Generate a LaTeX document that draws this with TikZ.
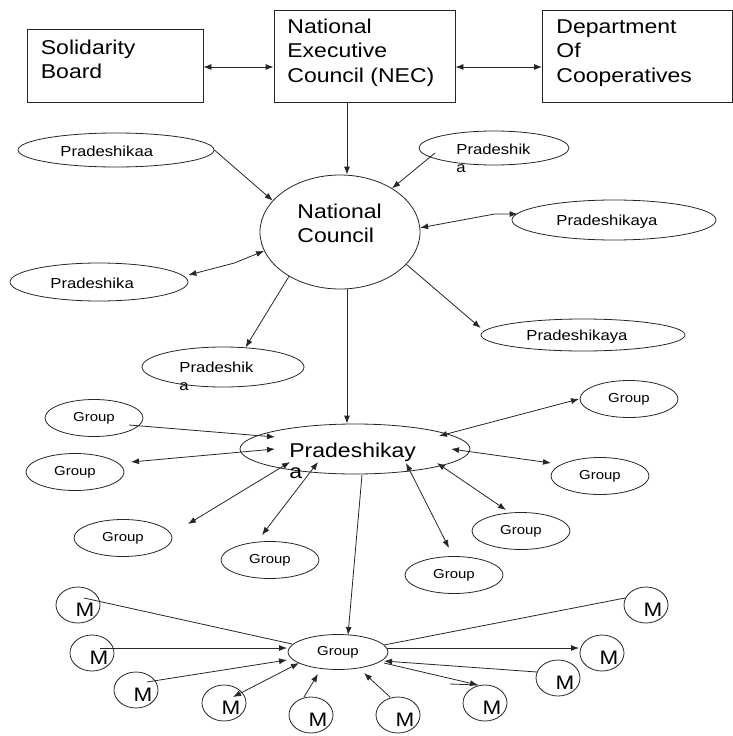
\documentclass[tikz,border=0pt]{standalone}
\usepackage{fontspec}
\setmainfont{Liberation Sans}[FakeStretch=1.15]
\usetikzlibrary{shapes.geometric,arrows.meta,calc}
\begin{document}
\begin{tikzpicture}[x=1pt,y=-1pt,
  line width=0.8pt, draw=black!85,
  >={Latex[length=8pt,width=6pt]},
  box/.style={draw, rectangle, inner sep=0},
  ell/.style={draw, ellipse, inner sep=0},
  big/.style={font=\fontsize{20}{24}\selectfont, inner sep=0, anchor=base west},
  mid/.style={font=\fontsize{14.5}{17}\selectfont, inner sep=0, anchor=base west},
  grp/.style={draw, ellipse, inner sep=0, minimum width=98pt, minimum height=37pt, font=\fontsize{13}{15}\selectfont},
  mem/.style={draw, ellipse, inner sep=0, minimum width=44pt, minimum height=36pt},
  mtxt/.style={font=\fontsize{19.5}{22}\selectfont, inner sep=0},
]
\useasboundingbox (0,0) rectangle (733,736);

% top boxes
\node[box, minimum width=176pt, minimum height=73pt] (sb) at (115,65.5) {};
\node[box, minimum width=181pt, minimum height=92pt] (nec) at (364.5,56) {};
\node[box, minimum width=190pt, minimum height=92pt] (dept) at (637.5,56) {};
\node[big] (sbt1) at (40.5,54) {Solidarity};
\node[big] (sbt2) at (40.5,78) {Board};
\node[big] (nect1) at (287,33) {National};
\node[big] (nect2) at (287,57.5) {Executive};
\node[big] (nect3) at (287,82) {Council (NEC)};
\node[big] (dt1) at (556,33) {Department};
\node[big] (dt2) at (556,57.5) {Of};
\node[big] (dt3) at (556,82) {Cooperatives};
\draw[<->] ($(sb.east)+(0,1.5)$) -- ($(sb.east -| nec.west)+(0,1.5)$);
\draw[<->] ($(nec.east |- sb.east)+(0,1.5)$) -- ($(dept.west |- sb.east)+(0,1.5)$);

% national council
\node[ell, minimum width=160pt, minimum height=114pt] (nc) at (340,232) {};
\node[big] (nct1) at (297,218) {National};
\node[big] (nct2) at (297,242) {Council};
\coordinate (vx) at (347,0);
\draw[->] (nec.south -| vx) -- (vx |- nc.north);

% pradeshika ring
\node[ell, minimum width=196pt, minimum height=34pt] (p1) at (116,150) {};
\node[mid] (p1t) at (60,156) {Pradeshikaa};
\draw[->] (p1.east) -- (nc.155);

\node[ell, minimum width=150pt, minimum height=34pt] (p2) at (494,148) {};
\node[mid] (p2t1) at (456,154) {Pradeshik};
\node[mid] (p2t2) at (456,172) {a};
\draw[->] ($(p2)+(-59,5)$) -- (nc.40);

\node[ell, minimum width=204pt, minimum height=40pt] (p3) at (614,220) {};
\node[mid] (p3t) at (556,225) {Pradeshikaya};
\draw[<->] (nc.3) -- ($(p3.west)+(-17,-6)$) -- ($(p3.west)+(6,-6)$);

\node[ell, minimum width=178pt, minimum height=38pt] (p4) at (99,282) {};
\node[mid] (p4t) at (50,288) {Pradeshika};
\draw[<->] ($(p4.east)+(0,-7)$) -- ($(p4.east)+(46,-19)$) -- (nc.194);

\node[ell, minimum width=162pt, minimum height=40pt] (p5) at (223,367) {};
\node[mid] (p5t1) at (179,372) {Pradeshik};
\node[mid] (p5t2) at (179,390) {a};
\draw[->] (nc.221) -- (p5.41);

\node[ell, minimum width=204pt, minimum height=32pt] (p6) at (583,335) {};
\node[mid] (p6t) at (526,340) {Pradeshikaya};
\draw[->] (nc.-26) -- ($(p6.west)+(0,-7)$);

% pradeshikaya
\node[ell, minimum width=230pt, minimum height=50pt] (py) at (355,449) {};
\node[big] (pyt1) at (289,457) {Pradeshikay};
\node[big] (pyt2) at (289,478) {a};
\draw[->] (vx |- nc.south) -- (vx |- py.north);

\node[grp] (g1) at (94,418) {Group};
\node[grp] (g2) at (75,472) {Group};
\node[grp] (g3) at (123,538) {Group};
\node[grp] (g4) at (270,560) {Group};
\node[grp] (g5) at (454,575) {Group};
\node[grp] (g6) at (521,531) {Group};
\node[grp] (g7) at (600,476) {Group};
\node[grp] (g8) at (629,399) {Group};
\draw[->] ($(g1)+(35,7)$) -- ($(py)+(-80,-12)$);
\draw[<->] ($(g2)+(56,-10)$) -- ($(py)+(-80,0)$);
\draw[<->] ($(g3)+(65,-14)$) -- ($(py)+(-65,13)$);
\draw[<->] ($(g4)+(-8,-25)$) -- ($(py)+(-37,13)$);
\draw[<->] ($(py)+(51,14)$) -- ($(g5)+(-5,-27)$);
\draw[<->] ($(py)+(82,14)$) -- ($(g6)+(-15,-21)$);
\draw[<->] ($(py)+(96,0)$) -- ($(g7)+(-49,-13)$);
\draw[<->] ($(py)+(84,-13)$) -- ($(g8)+(-50,0)$);

% group and members
\node[grp, minimum width=100pt, minimum height=35pt] (gc) at (338,652) {Group};
\draw[->] ($(py)+(7,26)$) -- ($(gc)+(10,-17)$);

\foreach \n/\x/\y in {m1/78/605, m2/92/653, m3/136/690, m4/224/703, m5/311/715,
                      m6/398/715, m7/485/703, m8/558/678, m9/602/653, m10/646/605} {
  \node[mem] (\n) at (\x,\y) {};
  \node[mtxt] (\n t) at ($(\n)+(7,5)$) {M};
}
\draw ($(m1)+(6,-7)$) -- ($(gc)+(-46,-8)$);
\draw[->] ($(m2)+(8,-5)$) -- ($(gc)+(-51,-4)$);
\draw[->] ($(m3)+(11,-8)$) -- ($(gc)+(-51,8)$);
\draw[<->] ($(m4)+(9,-6)$) -- ($(gc)+(-39,11)$);
\draw[->] ($(m5)+(-7,-18)$) -- ($(gc)+(-20,22)$);
\draw[->] ($(m6)+(-8,-18)$) -- ($(gc)+(26,21)$);
\draw[->] ($(gc)+(46,11)$) -- ($(m7)+(-7,-18)$);
\draw ($(m7)+(-35,-19)$) -- ($(m7)+(-7,-18)$);
\draw[->] ($(m8)+(-21,-6)$) -- ($(gc)+(46,9)$);
\draw[->] ($(gc)+(49,-4)$) -- ($(m9)+(-23,-5)$);
\draw ($(m10)+(-21,-7)$) -- ($(gc)+(46,-7)$);
\end{tikzpicture}
\end{document}
